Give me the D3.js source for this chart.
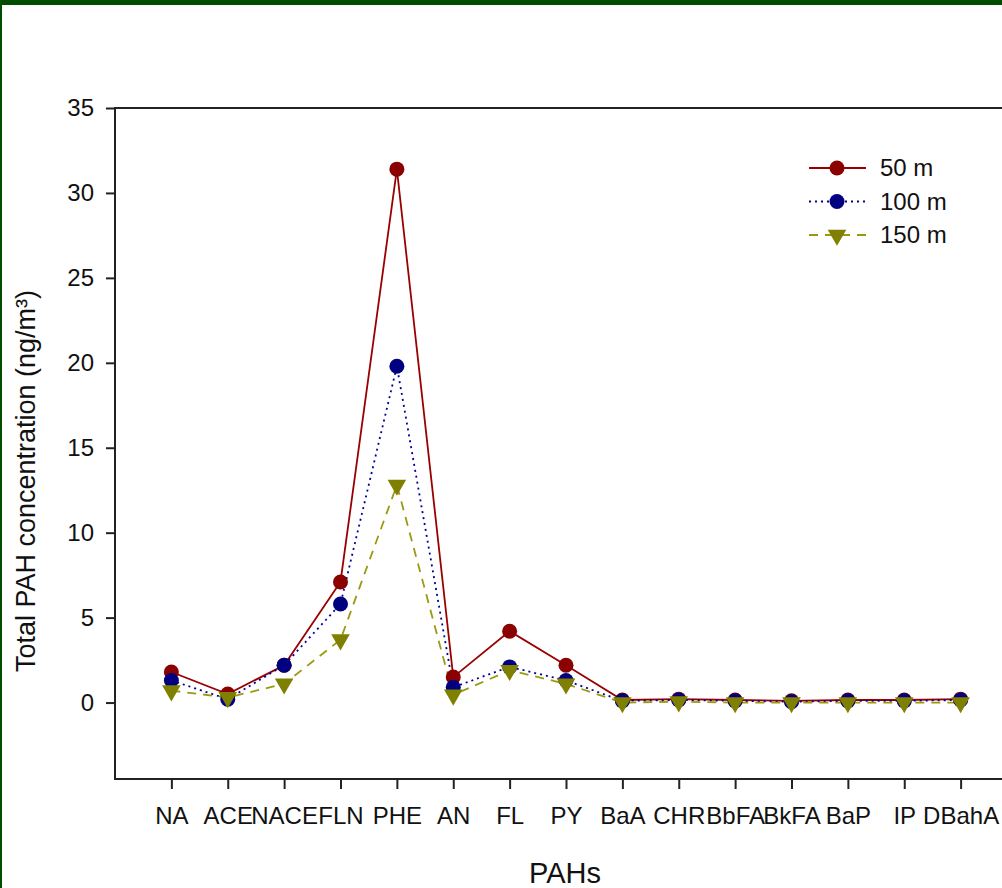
<!DOCTYPE html>
<html>
<head>
<meta charset="utf-8">
<script src="https://cdn.jsdelivr.net/npm/d3@7"></script>
<style>
  html, body { margin: 0; padding: 0; background: #fff; }
  svg { display: block; font-family: "Liberation Sans", Arial, sans-serif; }
</style>
</head>
<body>
<svg id="chart" width="1002" height="888"></svg>
<script>
// categories on the x axis
var pahs = ["NA", "ACE", "NACE", "FLN", "PHE", "AN", "FL", "PY", "BaA", "CHR", "BbFA", "BkFA", "BaP", "IP", "DBahA"];

// concentrations (ng/m3) per sampling height
var values50  = [1.8, 0.5, 2.2, 7.1, 31.4, 1.5, 4.2, 2.2, 0.15, 0.2, 0.15, 0.1, 0.15, 0.15, 0.2];
var values100 = [1.3, 0.2, 2.2, 5.8, 19.8, 0.9, 2.1, 1.3, 0.1, 0.15, 0.1, 0.05, 0.1, 0.1, 0.15];
var values150 = [0.7, 0.3, 1.1, 3.7, 12.8, 0.45, 1.9, 1.1, 0.0, 0.05, 0.0, 0.0, 0.0, 0.0, 0.0];

var yTicks = [0, 5, 10, 15, 20, 25, 30, 35];

var series = [
  { name: "50 m",  values: values50,  color: "#8b0000", line: "#990000", dash: null,   shape: "circle" },
  { name: "100 m", values: values100, color: "#000080", line: "#000099", dash: "2,4",  shape: "circle" },
  { name: "150 m", values: values150, color: "#808000", line: "#9a9a10", dash: "9,7",  shape: "triangle" }
];

var svg = d3.select("#chart");

// green frame of the slide
svg.append("rect").attr("x", 0).attr("y", 0).attr("width", 1002).attr("height", 5).attr("fill", "#004d00");
svg.append("rect").attr("x", 0).attr("y", 0).attr("width", 2).attr("height", 888).attr("fill", "#004d00");

var plotLeft = 115, plotRight = 1017, plotTop = 108, plotBottom = 779;

var x = d3.scalePoint().domain(pahs).range([plotLeft, plotRight]).padding(1);
var y = d3.scaleLinear().domain([-4.5, 35]).range([plotBottom, plotTop]);

// plot box
svg.append("rect")
  .attr("x", plotLeft).attr("y", plotTop)
  .attr("width", plotRight - plotLeft).attr("height", plotBottom - plotTop)
  .attr("fill", "none").attr("stroke", "#222").attr("stroke-width", 2);

// y axis
var yAxis = svg.append("g")
  .attr("transform", "translate(" + plotLeft + ",0)")
  .call(d3.axisLeft(y).tickValues(yTicks).tickSize(9).tickPadding(12).tickFormat(d3.format("d")));
yAxis.select(".domain").remove();
yAxis.selectAll("line").attr("stroke", "#222").attr("stroke-width", 2);
yAxis.selectAll("text").attr("font-size", 24).attr("fill", "#111").attr("font-family", null);

// x axis
var xAxis = svg.append("g")
  .attr("transform", "translate(0," + plotBottom + ")")
  .call(d3.axisBottom(x).tickSize(10).tickPadding(18));
xAxis.select(".domain").remove();
xAxis.selectAll("line").attr("stroke", "#222").attr("stroke-width", 2);
xAxis.selectAll("text").attr("font-size", 24).attr("fill", "#111").attr("font-family", null);

// axis titles
svg.append("text")
  .attr("transform", "translate(35," + 481 + ") rotate(-90)")
  .attr("text-anchor", "middle")
  .attr("font-size", 27).attr("fill", "#111")
  .text("Total PAH concentration (ng/m³)");

svg.append("text")
  .attr("x", 565).attr("y", 883)
  .attr("text-anchor", "middle")
  .attr("font-size", 29).attr("fill", "#111")
  .text("PAHs");

var line = d3.line()
  .x(function(d, i) { return x(pahs[i]); })
  .y(function(d) { return y(d); });

var triangle = d3.symbol().type(d3.symbolTriangle).size(150);

series.forEach(function(s) {
  svg.append("path")
    .datum(s.values)
    .attr("d", line)
    .attr("fill", "none")
    .attr("stroke", s.line)
    .attr("stroke-width", 1.8)
    .attr("stroke-dasharray", s.dash);
});

series.forEach(function(s) {
  var g = svg.append("g");
  s.values.forEach(function(v, i) {
    drawMarker(g, s, x(pahs[i]), y(v));
  });
});

function drawMarker(g, s, cx, cy) {
  if (s.shape === "circle") {
    g.append("circle").attr("cx", cx).attr("cy", cy).attr("r", 7.5).attr("fill", s.color);
  } else {
    g.append("path")
      .attr("d", triangle)
      .attr("transform", "translate(" + cx + "," + cy + ") rotate(180)")
      .attr("fill", s.color);
  }
}

// legend
var legend = svg.append("g");
series.forEach(function(s, i) {
  var ly = 168 + i * 33.5;
  legend.append("line")
    .attr("x1", 809).attr("x2", 866).attr("y1", ly).attr("y2", ly)
    .attr("stroke", s.line).attr("stroke-width", 1.8)
    .attr("stroke-dasharray", s.dash);
  drawMarker(legend, s, 837, ly);
  legend.append("text")
    .attr("x", 880).attr("y", ly + 8)
    .attr("font-size", 24).attr("fill", "#111")
    .text(s.name);
});
</script>
</body>
</html>
